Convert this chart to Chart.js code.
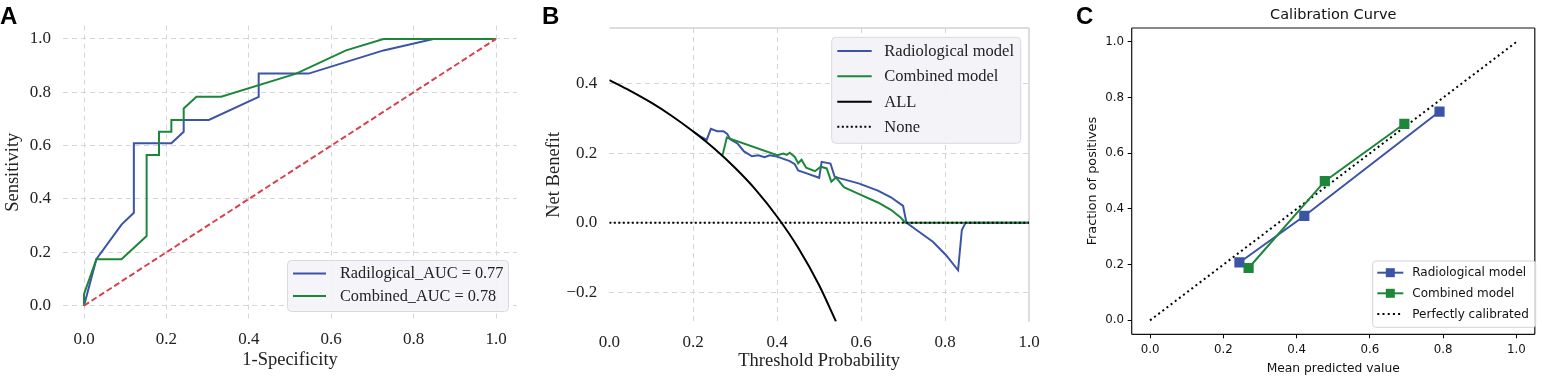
<!DOCTYPE html>
<html lang="en">
<head>
<meta charset="UTF-8">
<title>ROC, decision curve and calibration</title>
<script src="https://cdn.jsdelivr.net/npm/chart.js"></script>
<style>
  body { margin: 0; background: #fff; }
  .wrap { position: relative; width: 1542px; height: 378px; overflow: hidden; }
  canvas { position: absolute; top: 0; }
  .tag { position: absolute; top: 4px; font: bold 24px "Liberation Sans", Arial, sans-serif; line-height: 24px; color: #000; }
</style>
</head>
<body>
<div class="wrap">
  <canvas id="roc" width="520" height="378" style="left:0"></canvas>
  <canvas id="dca" width="540" height="378" style="left:520px"></canvas>
  <canvas id="cal" width="482" height="378" style="left:1060px"></canvas>
  <div class="tag" style="left:0">A</div>
  <div class="tag" style="left:542px">B</div>
  <div class="tag" style="left:1076px">C</div>
</div>
<script>
// ---- data ----
// A: ROC curves
const radFpr = [0, 0.030, 0.091, 0.121, 0.121, 0.212, 0.242, 0.242, 0.303, 0.424, 0.424, 0.545, 0.727, 0.848, 1.0];
const radTpr = [0, 0.174, 0.304, 0.348, 0.609, 0.609, 0.652, 0.696, 0.696, 0.783, 0.870, 0.870, 0.957, 1.0, 1.0];
const combFpr = [0, 0, 0.030, 0.091, 0.152, 0.152, 0.182, 0.182, 0.212, 0.212, 0.242, 0.242, 0.273, 0.333, 0.515, 0.636, 0.727, 1.0];
const combTpr = [0, 0.043, 0.174, 0.174, 0.261, 0.565, 0.565, 0.652, 0.652, 0.696, 0.696, 0.739, 0.783, 0.783, 0.870, 0.957, 1.0, 1.0];
const chanceX = [0, 1];
const chanceY = [0, 1];
const rocLabels = ['Radilogical_AUC = 0.77', 'Combined_AUC = 0.78'];
const rocTicks = [0, 0.2, 0.4, 0.6, 0.8, 1.0];

// B: decision curves
const dcaRadT = [0.200, 0.215, 0.232, 0.242, 0.257, 0.272, 0.281, 0.288, 0.306, 0.321, 0.340, 0.355, 0.370, 0.382, 0.400, 0.430, 0.442, 0.450, 0.472, 0.500, 0.506, 0.527, 0.537, 0.548, 0.594, 0.640, 0.671, 0.700, 0.708, 0.732, 0.771, 0.802, 0.831, 0.840, 0.849, 1.0];
const dcaRadNB = [0.262, 0.250, 0.238, 0.270, 0.263, 0.263, 0.255, 0.240, 0.227, 0.205, 0.191, 0.194, 0.188, 0.194, 0.190, 0.177, 0.168, 0.150, 0.141, 0.129, 0.175, 0.170, 0.132, 0.128, 0.113, 0.092, 0.073, 0.048, 0.000, -0.021, -0.055, -0.093, -0.137, -0.021, 0.000, 0.000];
const dcaCombT = [0.270, 0.280, 0.400, 0.415, 0.423, 0.430, 0.442, 0.450, 0.458, 0.469, 0.490, 0.504, 0.518, 0.529, 0.540, 0.559, 0.594, 0.640, 0.671, 0.694, 0.705, 1.0];
const dcaCombNB = [0.195, 0.245, 0.194, 0.199, 0.195, 0.201, 0.189, 0.171, 0.181, 0.158, 0.148, 0.161, 0.156, 0.118, 0.130, 0.102, 0.083, 0.058, 0.037, 0.015, 0.000, 0.000];
const dcaAllT = [0, 0.05, 0.10, 0.15, 0.20, 0.25, 0.30, 0.35, 0.40, 0.45, 0.50, 0.54];
const dcaAllNB = [0.410, 0.379, 0.345, 0.306, 0.262, 0.213, 0.157, 0.093, 0.017, -0.072, -0.180, -0.284];
const dcaNoneT = [0, 1];
const dcaNoneNB = [0, 0];
const dcaLabels = ['Radiological model', 'Combined model', 'ALL', 'None'];
const dcaXTicks = [0, 0.2, 0.4, 0.6, 0.8, 1.0];
const dcaYTicks = [-0.2, 0, 0.2, 0.4];

// C: calibration
const calRadX = [0.244, 0.421, 0.790];
const calRadY = [0.208, 0.375, 0.750];
const calCombX = [0.269, 0.477, 0.694];
const calCombY = [0.188, 0.500, 0.706];
const calPerfX = [0, 1];
const calPerfY = [0, 1];
const calLabels = ['Radiological model', 'Combined model', 'Perfectly calibrated'];
const calTicks = [0, 0.2, 0.4, 0.6, 0.8, 1.0];

// ---- styling ----
const BLUE = '#3b54a6';
const GREEN = '#1c873b';
const RED = '#d7434d';
const GRID = '#d6d6d6';
const SERIF = '"Liberation Serif", "Times New Roman", serif';
const SANS = '"DejaVu Sans", sans-serif';

const pts = (xs, ys) => xs.map((x, i) => ({ x, y: ys[i] }));
const fmt = v => (v < 0 ? '\u2212' : '') + Math.abs(v).toFixed(1);
const fixTicks = list => s => { s.ticks = list.map(v => ({ value: v })); };

// legend drawn in a box at a fixed spot, entries taken from the datasets
const boxLegend = {
  id: 'boxLegend',
  afterDatasetsDraw(chart, args, o) {
    const ctx = chart.ctx;
    const [bx, by, bw, bh] = o.box;
    ctx.save();
    ctx.beginPath();
    ctx.roundRect(bx, by, bw, bh, o.radius);
    ctx.fillStyle = o.fill;
    ctx.fill();
    ctx.lineWidth = 1;
    ctx.strokeStyle = o.stroke;
    ctx.stroke();
    ctx.font = o.font;
    ctx.textBaseline = 'middle';
    o.order.forEach((di, i) => {
      const ds = chart.data.datasets[di];
      const y = o.rows[i];
      ctx.beginPath();
      ctx.setLineDash(ds.borderDash || []);
      ctx.strokeStyle = ds.borderColor;
      ctx.lineWidth = ds.borderWidth;
      ctx.moveTo(o.lineX[0], y);
      ctx.lineTo(o.lineX[1], y);
      ctx.stroke();
      ctx.setLineDash([]);
      if (o.marker && ds.pointRadius) {
        const cx = (o.lineX[0] + o.lineX[1]) / 2;
        ctx.fillStyle = ds.borderColor;
        ctx.fillRect(cx - 4.5, y - 4.5, 9, 9);
      }
      ctx.fillStyle = o.color;
      ctx.fillText(ds.label, o.textX, y + 0.5);
    });
    ctx.restore();
  }
};

// axes frame lines on selected sides
const frame = {
  id: 'frame',
  beforeDatasetsDraw(chart, args, o) {
    const { left, right, top, bottom } = chart.chartArea;
    const ctx = chart.ctx;
    ctx.save();
    ctx.strokeStyle = o.color;
    ctx.lineWidth = o.width;
    ctx.beginPath();
    if (o.sides.includes('top')) { ctx.moveTo(left, top); ctx.lineTo(right, top); }
    if (o.sides.includes('right')) { ctx.moveTo(right, top); ctx.lineTo(right, bottom); }
    if (o.sides.includes('bottom')) { ctx.moveTo(left, bottom); ctx.lineTo(right, bottom); }
    if (o.sides.includes('left')) { ctx.moveTo(left, top); ctx.lineTo(left, bottom); }
    ctx.stroke();
    ctx.restore();
  }
};

const base = {
  responsive: false,
  animation: false,
  devicePixelRatio: 1,
  events: [],
  elements: { point: { radius: 0 } },
};

// ---- A: ROC ----
new Chart(document.getElementById('roc'), {
  type: 'scatter',
  data: {
    datasets: [
      { label: 'chance', data: pts(chanceX, chanceY), showLine: true, borderColor: RED, borderWidth: 2, borderDash: [6, 3], pointRadius: 0 },
      { label: rocLabels[1], data: pts(combFpr, combTpr), showLine: true, borderColor: GREEN, borderWidth: 2, pointRadius: 0 },
      { label: rocLabels[0], data: pts(radFpr, radTpr), showLine: true, borderColor: BLUE, borderWidth: 2, pointRadius: 0 }
    ]
  },
  options: {
    ...base,
    layout: { padding: { top: 25.6, right: 3.4, left: 0, bottom: 0 } },
    plugins: {
      legend: { display: false },
      tooltip: { enabled: false },
      boxLegend: {
        box: [287.5, 260.5, 221, 51], radius: 4, fill: 'rgba(244,244,248,0.92)', stroke: '#d8d8e0',
        font: '16.3px ' + SERIF, color: '#222',
        order: [2, 1], rows: [273.5, 296], lineX: [293, 326], textX: 340
      }
    },
    scales: {
      x: {
        type: 'linear', min: -0.05, max: 1.05,
        afterBuildTicks: fixTicks(rocTicks),
        afterFit: s => { s.height = 59; },
        ticks: { callback: fmt, padding: 10.3, color: '#222', font: { family: SERIF, size: 17 } },
        grid: { color: GRID, drawTicks: false, lineWidth: 1 },
        border: { display: false, dash: [5, 4] },
        title: { display: true, text: '1-Specificity', color: '#222', font: { family: SERIF, size: 18.5 }, padding: { top: 0, bottom: 6.5 } }
      },
      y: {
        type: 'linear', min: -0.05, max: 1.05,
        afterBuildTicks: fixTicks(rocTicks),
        afterFit: s => { s.width = 63.4; },
        ticks: { callback: fmt, padding: 12.3, color: '#222', font: { family: SERIF, size: 17 } },
        grid: { color: GRID, drawTicks: false, lineWidth: 1 },
        border: { display: false, dash: [5, 4] },
        title: { display: true, text: 'Sensitivity', color: '#222', font: { family: SERIF, size: 18.5 }, padding: { top: 2.5, bottom: 0 } }
      }
    }
  },
  plugins: [boxLegend]
});

// ---- B: decision curve ----
const dcaGrid = {
  color: c => (c.tick && (c.tick.value === 0 || c.tick.value === 1) ? 'rgba(0,0,0,0)' : GRID),
  drawTicks: false, lineWidth: 1
};
new Chart(document.getElementById('dca'), {
  type: 'scatter',
  data: {
    datasets: [
      { label: dcaLabels[3], data: pts(dcaNoneT, dcaNoneNB), showLine: true, borderColor: '#000', borderWidth: 2, borderDash: [2, 2.5], pointRadius: 0 },
      { label: dcaLabels[2], data: pts(dcaAllT, dcaAllNB), showLine: true, borderColor: '#000', borderWidth: 2, cubicInterpolationMode: 'monotone', pointRadius: 0 },
      { label: dcaLabels[1], data: pts(dcaCombT, dcaCombNB), showLine: true, borderColor: GREEN, borderWidth: 2, pointRadius: 0 },
      { label: dcaLabels[0], data: pts(dcaRadT, dcaRadNB), showLine: true, borderColor: BLUE, borderWidth: 2, pointRadius: 0 }
    ]
  },
  options: {
    ...base,
    layout: { padding: { top: 28, right: 31, left: 0, bottom: 0 } },
    plugins: {
      legend: { display: false },
      tooltip: { enabled: false },
      frame: { color: '#d2d2d2', width: 1.5, sides: ['top', 'right'] },
      boxLegend: {
        box: [311.7, 37.3, 189, 106], radius: 4, fill: 'rgba(243,243,247,0.92)', stroke: '#d8d8e0',
        font: '16.5px ' + SERIF, color: '#222',
        order: [3, 2, 1, 0], rows: [51, 76.3, 101.7, 126.7], lineX: [317.3, 351.7], textX: 364.3
      }
    },
    scales: {
      x: {
        type: 'linear', min: 0, max: 1,
        afterBuildTicks: fixTicks(dcaXTicks),
        afterFit: s => { s.height = 56.3; },
        ticks: { callback: fmt, padding: 10.6, color: '#222', font: { family: SERIF, size: 17 } },
        grid: dcaGrid,
        border: { display: false, dash: [5, 4] },
        title: { display: true, text: 'Threshold Probability', color: '#222', font: { family: SERIF, size: 18.5 }, padding: { top: 0, bottom: 5.7 } }
      },
      y: {
        type: 'linear', min: -0.285, max: 0.56,
        afterBuildTicks: fixTicks(dcaYTicks),
        afterFit: s => { s.width = 89.3; },
        ticks: { callback: fmt, padding: 12, color: '#222', font: { family: SERIF, size: 17 } },
        grid: { color: GRID, drawTicks: false, lineWidth: 1 },
        border: { display: false, dash: [5, 4] },
        title: { display: true, text: 'Net Benefit', color: '#222', font: { family: SERIF, size: 18.5 }, padding: { top: 22.6, bottom: 0 } }
      }
    }
  },
  plugins: [frame, boxLegend]
});

// ---- C: calibration ----
const calGrid = { color: 'rgba(0,0,0,0)', tickColor: '#000', tickLength: 4, tickWidth: 1, drawOnChartArea: false };
new Chart(document.getElementById('cal'), {
  type: 'scatter',
  data: {
    datasets: [
      { label: calLabels[1], data: pts(calCombX, calCombY), showLine: true, borderColor: GREEN, backgroundColor: GREEN, borderWidth: 2, pointStyle: 'rect', pointRadius: 7.2, pointBorderWidth: 0 },
      { label: calLabels[0], data: pts(calRadX, calRadY), showLine: true, borderColor: BLUE, backgroundColor: BLUE, borderWidth: 2, pointStyle: 'rect', pointRadius: 7.2, pointBorderWidth: 0 },
      { label: calLabels[2], data: pts(calPerfX, calPerfY), showLine: true, borderColor: '#000', borderWidth: 2, borderDash: [2, 3.2], pointRadius: 0 }
    ]
  },
  options: {
    ...base,
    layout: { padding: { top: 0, right: 0, left: 0, bottom: 0 } },
    plugins: {
      legend: { display: false },
      tooltip: { enabled: false },
      title: { display: true, text: 'Calibration Curve', fullSize: false, color: '#111', font: { family: SANS, size: 14.5, weight: 'normal' }, padding: { top: 6.5, bottom: 4.1 } },
      frame: { color: '#111', width: 1.2, sides: ['top', 'right', 'bottom', 'left'] },
      boxLegend: {
        box: [312.7, 261, 163, 66.3], radius: 3, fill: 'rgba(255,255,255,0.85)', stroke: '#d4d4d4',
        font: '12px ' + SANS, color: '#111', marker: true,
        order: [1, 0, 2], rows: [272.7, 293.3, 314], lineX: [317.3, 343.3], textX: 352.3
      }
    },
    scales: {
      x: {
        type: 'linear', min: -0.05, max: 1.05,
        afterBuildTicks: fixTicks(calTicks),
        afterFit: s => { s.height = 43.7; },
        ticks: { callback: fmt, padding: 4.6, color: '#111', font: { family: SANS, size: 11.8 } },
        grid: calGrid,
        border: { display: false },
        title: { display: true, text: 'Mean predicted value', color: '#111', font: { family: SANS, size: 12.3 }, padding: { top: 0, bottom: 1.5 } }
      },
      y: {
        type: 'linear', min: -0.05, max: 1.05,
        afterBuildTicks: fixTicks(calTicks),
        afterFit: s => { s.width = 71.7; },
        ticks: { callback: fmt, padding: 3.6, color: '#111', font: { family: SANS, size: 11.8 } },
        grid: calGrid,
        border: { display: false },
        title: { display: true, text: 'Fraction of positives', color: '#111', font: { family: SANS, size: 12.8 }, padding: { top: 24.5, bottom: 0 } }
      }
    }
  },
  plugins: [frame, boxLegend]
});
</script>
</body>
</html>
